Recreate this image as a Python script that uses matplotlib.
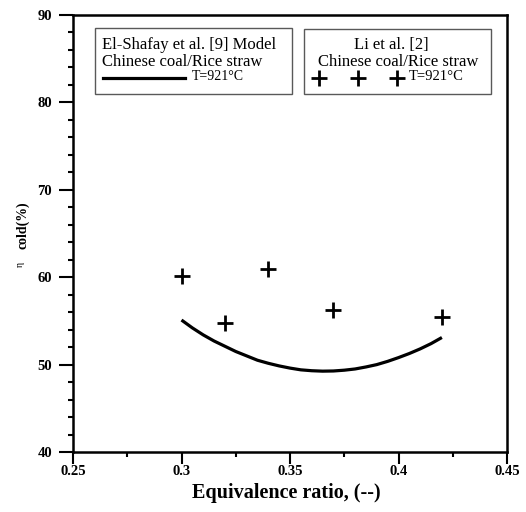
import matplotlib
matplotlib.use("Agg")
import matplotlib.pyplot as plt
from matplotlib.lines import Line2D
from matplotlib.patches import Rectangle
from matplotlib.ticker import MultipleLocator

# ---- data ---------------------------------------------------------------------------------
model_phi = [0.300, 0.305, 0.310, 0.315, 0.320, 0.325, 0.330, 0.335, 0.340, 0.345, 0.350,
             0.355, 0.360, 0.365, 0.370, 0.375, 0.380, 0.385, 0.390, 0.395, 0.400, 0.405,
             0.410, 0.415, 0.420]
model_eta = [55.1, 54.2, 53.4, 52.7, 52.1, 51.5, 51.0, 50.5, 50.15, 49.85, 49.6,
             49.4, 49.3, 49.25, 49.27, 49.36, 49.5, 49.73, 50.0, 50.37, 50.8, 51.27,
             51.8, 52.4, 53.1]

exp_phi = [0.30, 0.32, 0.34, 0.37, 0.42]
exp_eta = [60.1, 54.8, 60.9, 56.2, 55.5]

x_ticks = [0.25, 0.3, 0.35, 0.4, 0.45]
x_ticklabels = ["0.25", "0.3", "0.35", "0.4", "0.45"]
y_ticks = [40, 50, 60, 70, 80, 90]

W, H = 526, 512
SERIF = ["Liberation Serif", "DejaVu Serif"]
plt.rcParams["font.family"] = SERIF


def px(x, y):
    """pixel position (from top-left) -> figure fraction"""
    return x / W, 1 - y / H


fig = plt.figure(figsize=(W / 100, H / 100), dpi=100)
fig.patch.set_facecolor("white")
l, b = px(73, 452)
r, t = px(507, 15)
ax = fig.add_axes((l, b, r - l, t - b))

ax.plot(model_phi, model_eta, color="black", lw=2.3, solid_capstyle="butt")
ax.plot(exp_phi, exp_eta, ls="none", marker="+", ms=12, mew=2.0, color="black")

ax.set_xlim(0.25, 0.45)
ax.set_ylim(40, 90)
ax.set_xticks(x_ticks)
ax.set_xticklabels(x_ticklabels)
ax.set_yticks(y_ticks)
ax.xaxis.set_minor_locator(MultipleLocator(0.025))
ax.yaxis.set_minor_locator(MultipleLocator(2))
for s in ax.spines.values():
    s.set_linewidth(1.8)
ax.tick_params(axis="x", which="major", direction="out", length=8.6, width=1.5, pad=1)
ax.tick_params(axis="y", which="major", direction="out", length=10, width=1.5, pad=5)
ax.tick_params(which="minor", direction="out", length=3.6, width=1.5)
for lab in ax.get_xticklabels() + ax.get_yticklabels():
    lab.set_fontweight("bold")
    lab.set_fontsize(10.5)

# axis titles
fig.text(*px(286, 493), "Equivalence ratio, (--)", ha="center", va="center",
         fontsize=14.5, fontweight="bold")
fig.text(*px(23, 225), "cold(%)", rotation=90, ha="center", va="center",
         fontsize=10, fontweight="bold")
fig.text(*px(20, 264), "\u03b7", rotation=90, ha="center", va="center", fontsize=7)

# ---- legend boxes (drawn by hand, like the original) ---------------------------------------
for x0, y0, x1, y1 in [(95, 28, 292, 94), (304, 29, 491, 94)]:
    fx0, fy1 = px(x0, y1)
    fx1, fy0 = px(x1, y0)
    fig.add_artist(Rectangle((fx0, fy1), fx1 - fx0, fy0 - fy1, transform=fig.transFigure,
                             fill=False, edgecolor="0.35", lw=1.0))

fig.text(*px(102, 45), "El-Shafay et al. [9] Model", ha="left", va="center", fontsize=12)
fig.text(*px(102, 62), "Chinese coal/Rice straw", ha="left", va="center", fontsize=12)
lx0, ly = px(103, 78)
lx1, _ = px(185, 78)
fig.add_artist(Line2D([lx0, lx1], [ly, ly], transform=fig.transFigure, color="black", lw=2.3))
fig.text(*px(192, 77), "T=921\u00b0C", ha="left", va="center", fontsize=10)

fig.text(*px(391, 45), "Li et al. [2]", ha="center", va="center", fontsize=12)
fig.text(*px(398, 62), "Chinese coal/Rice straw", ha="center", va="center", fontsize=12)
mx = [px(x, 78)[0] for x in (319, 358, 397)]
fig.add_artist(Line2D(mx, [px(0, 78)[1]] * 3, transform=fig.transFigure, ls="none",
                      marker="+", ms=12, mew=2.0, color="black"))
fig.text(*px(409, 77), "T=921\u00b0C", ha="left", va="center", fontsize=10.5)

fig.savefig("out.png", dpi=100)
